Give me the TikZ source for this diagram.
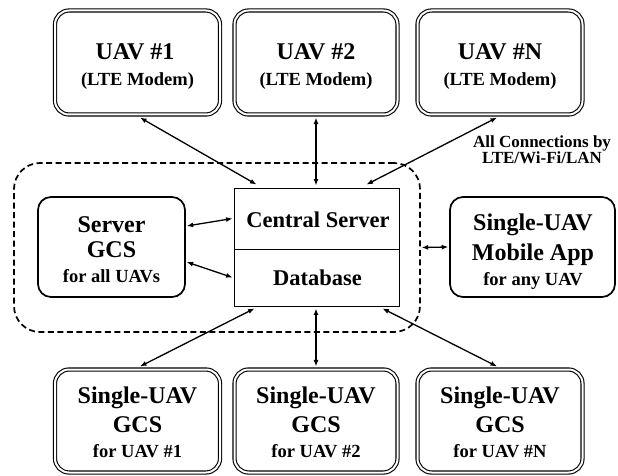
\documentclass[tikz,border=0pt]{standalone}
\usepackage{fontspec}
\setmainfont{Liberation Serif}
\usetikzlibrary{arrows.meta}
\begin{document}
\begin{tikzpicture}[x=1pt,y=-1pt,
  dblbox/.style={draw, rounded corners=14pt, double, line width=1.1pt, double distance=2pt,
    minimum width=165pt, minimum height=104pt, inner sep=0pt},
  sglbox/.style={draw, rounded corners=13pt, line width=1.7pt,
    minimum width=147pt, minimum height=100pt, inner sep=0pt},
  plainbox/.style={draw, line width=0.9pt, minimum width=165pt, inner sep=0pt},
  grpbox/.style={draw, dash pattern=on 6pt off 3.5pt, rounded corners=26pt, line width=1.7pt,
    minimum width=406pt, minimum height=169pt, inner sep=0pt},
  big/.style={anchor=base, inner sep=0pt, font=\bfseries\fontsize{24}{26}\selectfont},
  small/.style={anchor=base, inner sep=0pt, font=\bfseries\fontsize{18.5}{20}\selectfont},
  note/.style={anchor=base, inner sep=0pt, font=\bfseries\fontsize{17}{19}\selectfont},
  biarr/.style={{Latex[length=6.5pt,width=5pt]}-{Latex[length=6.5pt,width=5pt]}, line width=1.3pt}
]
\useasboundingbox (0,0) rectangle (618,476);

% group
\node[grpbox] (grp) at (217,247.5) {};

% top UAV boxes
\node[dblbox] (u1) at (137.5,62.5) {};
\node[dblbox, minimum width=163pt] (u2) at (316,62.5) {};
\node[dblbox] (uN) at (500,62.5) {};
\node[big] (u1a) at (135,60) {UAV \#1};
\node[small] (u1b) at (137.5,86) {(LTE Modem)};
\node[big] (u2a) at (316,60) {UAV \#2};
\node[small] (u2b) at (316,86) {(LTE Modem)};
\node[big] (uNa) at (500,60) {UAV \#N};
\node[small] (uNb) at (500,86) {(LTE Modem)};

% central server / database
\node[plainbox, minimum height=61pt] (cs) at (316.5,218.5) {};
\node[plainbox, minimum height=57pt] (db) at (316.5,277.5) {};
\node[big, font=\bfseries\fontsize{22.5}{26}\selectfont] (csa) at (318,227) {Central Server};
\node[big, font=\bfseries\fontsize{22.5}{26}\selectfont] (dba) at (317.5,285) {Database};

% server GCS
\node[sglbox] (gcs) at (111.5,247) {};
\node[big] (gcsa) at (111.5,232) {Server};
\node[big] (gcsb) at (111.5,257) {GCS};
\node[small] (gcsc) at (111.5,282) {for all UAVs};

% mobile app
\node[sglbox, minimum width=165pt] (mob) at (532.5,247) {};
\node[big] (moba) at (533,230) {Single-UAV};
\node[big] (mobb) at (533,260) {Mobile App};
\node[small] (mobc) at (533,285) {for any UAV};

% bottom GCS boxes
\node[dblbox, minimum height=103pt] (b1) at (137.5,421) {};
\node[dblbox, minimum height=103pt, minimum width=163pt] (b2) at (316,421) {};
\node[dblbox, minimum height=103pt] (bN) at (500,421) {};
\node[big] (b1a) at (137.5,403) {Single-UAV};
\node[big] (b1b) at (137.5,432) {GCS};
\node[small] (b1c) at (137.5,457) {for UAV \#1};
\node[big] (b2a) at (316,403) {Single-UAV};
\node[big] (b2b) at (316,432) {GCS};
\node[small] (b2c) at (316,457) {for UAV \#2};
\node[big] (bNa) at (500,403) {Single-UAV};
\node[big] (bNb) at (500,432) {GCS};
\node[small] (bNc) at (500,457) {for UAV \#N};

% note
\node[note] (n1) at (542,147) {All Connections by};
\node[note] (n2) at (542,163) {LTE/Wi-Fi/LAN};

% connectors
\draw[biarr] ([xshift=2.5pt,yshift=-2.5pt]u1.south) -- ([xshift=23pt,yshift=3pt]cs.north west);
\draw[biarr] ([xshift=0pt,yshift=-2.5pt]u2.south) -- ([xshift=-0.5pt,yshift=2pt]cs.north);
\draw[biarr] ([xshift=-3pt,yshift=-2.5pt]uN.south) -- ([xshift=-33pt,yshift=3pt]cs.north east);
\draw[biarr] ([xshift=0.8pt,yshift=21pt]gcs.east) -- ([xshift=-1pt,yshift=0pt]cs.west);
\draw[biarr] ([xshift=0.8pt,yshift=-15pt]gcs.east) -- ([xshift=-1pt,yshift=0pt]db.west);
\draw[biarr] ([xshift=0.8pt]grp.east) -- ([xshift=-0.9pt]mob.west);
\draw[biarr] ([xshift=21pt,yshift=-2pt]db.south west) -- ([xshift=2.5pt,yshift=2.5pt]b1.north);
\draw[biarr] ([xshift=-0.5pt,yshift=-2pt]db.south) -- ([yshift=2.5pt]b2.north);
\draw[biarr] ([xshift=-17pt,yshift=-2pt]db.south east) -- ([xshift=-3pt,yshift=2.5pt]bN.north);
\end{tikzpicture}
\end{document}
